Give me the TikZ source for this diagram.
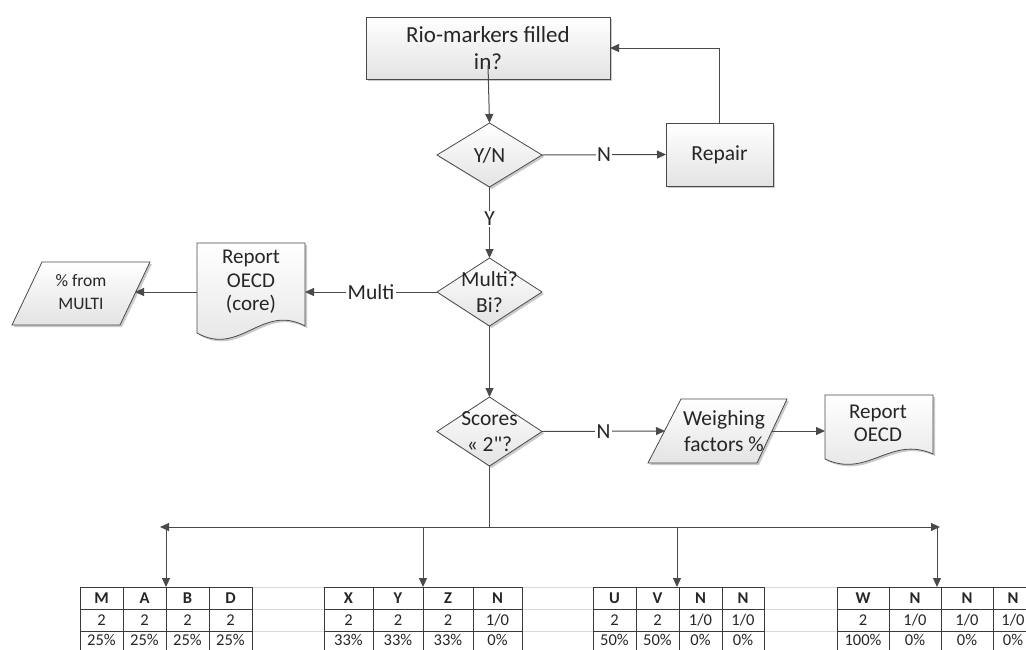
\documentclass[tikz,border=0pt]{standalone}
\usepackage{fontspec}
\setmainfont{Carlito}
\usetikzlibrary{arrows.meta,shapes.geometric,shadows,calc}
\definecolor{ln}{HTML}{4A4A4A}
\definecolor{txt}{HTML}{262626}
\definecolor{gridc}{HTML}{DADADA}
\definecolor{shd}{HTML}{CACACA}
\definecolor{fbot}{HTML}{E3E3E3}
\definecolor{tabc}{HTML}{3A3A3A}
\newcommand\mainsz{\fontsize{21.5}{26}\selectfont}
\newcommand\riosz{\fontsize{23}{27}\selectfont}
\newcommand\docsz{\fontsize{21}{23.5}\selectfont}
\newcommand\smallsz{\fontsize{17.5}{23}\selectfont}
\newcommand\straightquote{{\addfontfeatures{Ligatures=TeXOff}"}}
\newcommand\tcol[6]{%
  \node[cellh, minimum width={#2-#1}] (#6a) at ({(#1+#2)/2},598) {#3};
  \node[cellv, minimum width={#2-#1}] (#6b) at ({(#1+#2)/2},620) {#4};
  \node[cellv, minimum width={#2-#1}] (#6c) at ({(#1+#2)/2},642) {};
  \node[celltext] (#6p) at ({(#1+#2)/2},640) {#5};
}
\tikzset{
  every node/.style={text=txt},
  conn/.style={draw=ln, line width=1pt},
  arr/.style={conn, -{Triangle[length=9pt,width=8pt]}},
  shapefill/.style={top color=white, bottom color=fbot, draw=ln, line width=0.8pt,
     drop shadow={shadow xshift=2pt, shadow yshift=-2pt, fill=shd, opacity=1}},
  ghost/.style={draw=none, inner sep=0pt, outer sep=0pt, rectangle},
  boxnode/.style={shapefill, rectangle, inner sep=0pt, outer sep=0pt, align=center, font=\mainsz},
  diam/.style={shapefill, diamond, inner sep=0pt, outer sep=0pt},
  lbl/.style={align=center, font=\mainsz, inner sep=0pt},
  elbl/.style={fill=white, inner sep=1.5pt, font=\mainsz},
  cell/.style={draw=tabc, line width=1pt, rectangle, inner sep=0pt, outer sep=0pt, minimum height=22, font=\fontsize{16.5}{18}\selectfont},
  cellh/.style={cell, font=\fontsize{16.5}{18}\selectfont\bfseries},
  cellv/.style={cell},
  celltext/.style={inner sep=0pt, outer sep=0pt, font=\fontsize{16.5}{18}\selectfont},
}
\begin{document}
\begin{tikzpicture}[x=1pt,y=-1pt]
\clip (0,0) rectangle (1026,649);
\fill[white] (0,0) rectangle (1026,649);

% top box
\node[boxnode, minimum width=244, minimum height=62, font=\riosz] (rio) at (488,48) {Rio-markers filled\\in?};
% decisions
\node[diam, minimum width=105, minimum height=64, label={[lbl]center:Y/N}] (yn) at (489.5,155) {};
\node[boxnode, minimum width=107, minimum height=63] (rp) at (719.5,154.5) {Repair};
\node[diam, minimum width=105, minimum height=68, label={[lbl]center:Multi?\\Bi?}] (md) at (489.5,292) {};
\node[diam, minimum width=105, minimum height=69, label={[lbl]center:Scores\\« 2\straightquote?}] (sc) at (489.5,431.5) {};

% Report OECD (core) document
\node[ghost, minimum width=108, minimum height=90] (rc) at (251,288) {};
\path[shapefill] (rc.north west) -- (rc.north east) -- ($(rc.south east)+(0,-7)$)
  .. controls ($(rc.south west)+(65,-30)$) and ($(rc.south west)+(43,24)$) .. (rc.south west) -- cycle;
\node[lbl, font=\docsz] (rctx) at (251,282) {Report\\OECD\\(core)};

% % from MULTI
\node[ghost, minimum width=138, minimum height=63] (pm) at (81,293.5) {};
\path[shapefill] (pm.south west) -- ($(pm.north west)+(30,0)$) -- (pm.north east) -- ($(pm.south east)+(-30,0)$) -- cycle;
\node[lbl, font=\smallsz] (pmtx) at (81,292) {\% from\\MULTI};

% Weighing factors
\node[ghost, minimum width=139, minimum height=64] (wf) at (717.5,431) {};
\path[shapefill] (wf.south west) -- ($(wf.north west)+(33,0)$) -- (wf.north east) -- ($(wf.south east)+(-30,0)$) -- cycle;
\node[lbl] (wftx) at (724,431) {Weighing\\factors \%};

% Report OECD document
\node[ghost, minimum width=108, minimum height=64] (ro) at (879,427) {};
\path[shapefill] (ro.north west) -- (ro.north east) -- ($(ro.south east)+(0,-5)$)
  .. controls ($(ro.south west)+(65,-24)$) and ($(ro.south west)+(43,20)$) .. (ro.south west) -- cycle;
\node[lbl, font=\docsz] (rotx) at (878,423.5) {Report\\OECD};

% connectors
\draw[arr] ([yshift=14pt]rio.south) -- (yn.north);
\draw[arr] (yn.east) -- node[elbl] (n1) {N} (rp.west);
\draw[arr] (rp.north) |- (rio.east);
\draw[arr] (yn.south) -- node[elbl, pos=0.45] (y1) {Y} (md.north);
\draw[arr] (md.west) -- node[elbl] (m1) {Multi} (md.west -| rc.east);
\draw[arr] (md.west -| rc.west) -- ($(md.west -| pm.east)+(-15,0)$);
\draw[arr] (md.south) -- (sc.north);
\draw[arr] (sc.east) -- node[elbl] (n2) {N} ($(wf.west)+(17,0)$);
\draw[arr] ($(wf.east)+(-15,0)$) -- (ro.west |- wf.east);

% distribution line
\coordinate (hj) at (489.5,527);
\coordinate (hl) at (160,527);
\coordinate (hr) at (940,527);
\draw[conn] (sc.south) -- (hj);
\draw[arr] (hj) -- (hl);
\draw[arr] (hj) -- (hr);

% gridlines
\foreach \yy in {587,609,631}{
  \draw[gridc, line width=1pt] (252,\yy) -- (324,\yy);
  \draw[gridc, line width=1pt] (522,\yy) -- (593,\yy);
  \draw[gridc, line width=1pt] (764,\yy) -- (837,\yy);
}

% tables
\tcol{80}{123}{M}{2}{25\%}{ta1}
\tcol{123}{166}{A}{2}{25\%}{ta2}
\tcol{166}{209}{B}{2}{25\%}{ta3}
\tcol{209}{252}{D}{2}{25\%}{ta4}

\tcol{324}{373}{X}{2}{33\%}{tb1}
\tcol{373}{423}{Y}{2}{33\%}{tb2}
\tcol{423}{473}{Z}{2}{33\%}{tb3}
\tcol{473}{522}{N}{1/0}{0\%}{tb4}

\tcol{593}{636}{U}{2}{50\%}{tc1}
\tcol{636}{679}{V}{2}{50\%}{tc2}
\tcol{679}{722}{N}{1/0}{0\%}{tc3}
\tcol{722}{764}{N}{1/0}{0\%}{tc4}

\tcol{837}{889}{W}{2}{100\%}{td1}
\tcol{889}{941}{N}{1/0}{0\%}{td2}
\tcol{941}{993}{N}{1/0}{0\%}{td3}
\tcol{993}{1033}{N}{1/0}{0\%}{td4}

% drops
\coordinate (d1) at (166,527);
\coordinate (d2) at (423,527);
\coordinate (d3) at (677,527);
\coordinate (d4) at (937,527);
\draw[arr] (d1) -- (d1 |- ta3a.north);
\draw[arr] (d2) -- (d2 |- tb3a.north);
\draw[arr] (d3) -- (d3 |- tc3a.north);
\draw[arr] (d4) -- (d4 |- td2a.north);
\end{tikzpicture}
\end{document}
